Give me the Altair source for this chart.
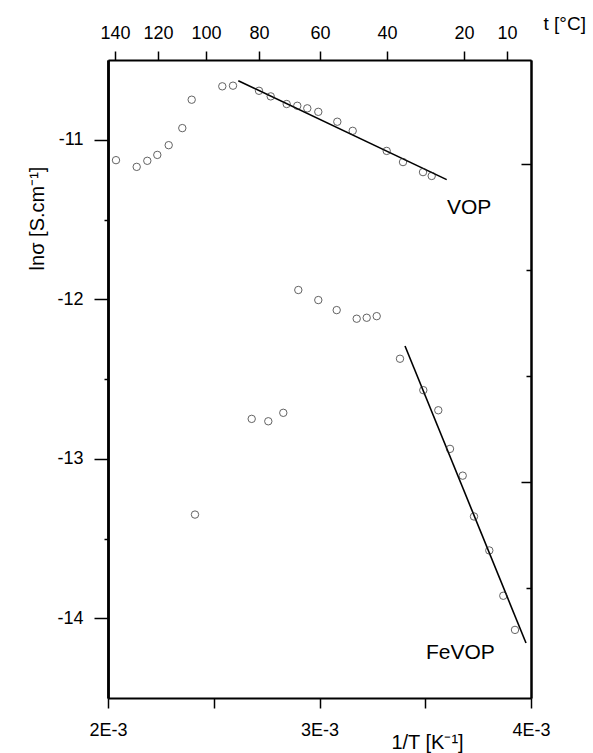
import altair as alt
import pandas as pd

# ---------------- data ----------------
# VOP: 1/T [K^-1], ln sigma
vop_x = [0.0020378, 0.0021357, 0.0021858, 0.0022331, 0.0022870, 0.0023513, 0.0023957,
         0.0025404, 0.0025910, 0.0027139, 0.0027693, 0.0028449, 0.0028950, 0.0029423,
         0.0029943, 0.0030842, 0.0031570, 0.0033177, 0.0033948, 0.0034894, 0.0035305]
vop_y = [-11.128, -11.170, -11.132, -11.095, -11.034, -10.927, -10.749,
         -10.665, -10.661, -10.693, -10.728, -10.776, -10.787, -10.803,
         -10.825, -10.887, -10.944, -11.070, -11.140, -11.203, -11.227]

# FeVOP
fe_x = [0.0024113, 0.0026794, 0.0027579, 0.0028288, 0.0028998, 0.0029943, 0.0030813,
        0.0031759, 0.0032232, 0.0032705, 0.0033806, 0.0034908, 0.0035617, 0.0036170,
        0.0036771, 0.0037305, 0.0038028, 0.0038690, 0.0039243]
fe_y = [-13.35, -12.750, -12.765, -12.712, -11.942, -12.005, -12.068,
        -12.122, -12.116, -12.106, -12.373, -12.570, -12.696, -12.938,
        -13.106, -13.362, -13.575, -13.859, -14.073]

# fitted straight lines (end points)
fit_series = ["VOP", "VOP", "FeVOP", "FeVOP"]
fit_x = [0.0026161, 0.0036014, 0.0034043, 0.0039764]
fit_y = [-10.630, -11.250, -12.293, -14.155]

# series labels
label_text = ["VOP", "FeVOP"]
label_x = [0.0036028, 0.0035035]
label_y = [-11.428, -14.22]

# axes
bottom_ticks = [0.002, 0.0025, 0.003, 0.0035, 0.004]
bottom_labels = ["2E-3", "", "3E-3", "", "4E-3"]
left_major = [-11, -12, -13, -14]
left_minor = [-11.5, -12.5, -13.5]
top_t_labels = ["140", "120", "100", "80", "60", "40", "20", "10"]
top_t_pos = [0.0020331, 0.0022364, 0.0024634, 0.0027139, 0.0030024,
             0.0033191, 0.0036832, 0.0038865]
right_major = [-11.152, -13.146]
right_minor = [-11.817, -12.481, -13.810]

# ---------------- chart ----------------
F = "Liberation Sans"
W, H = 423, 638

df_vop = pd.DataFrame({"x": vop_x, "y": vop_y})
df_fe = pd.DataFrame({"x": fe_x, "y": fe_y})
df_fit = pd.DataFrame({"s": fit_series, "x": fit_x, "y": fit_y})
df_lab = pd.DataFrame({"t": label_text, "x": label_x, "y": label_y})

xscale = alt.Scale(domain=[0.002, 0.004], nice=False, zero=False)
yscale = alt.Scale(domain=[-14.5, -10.5], nice=False, zero=False)


def ternary(vals, labels, tol=1e-7):
    expr = "''"
    for v, l in reversed(list(zip(vals, labels))):
        expr = f"abs(datum.value - {v}) < {tol} ? '{l}' : ({expr})"
    return expr


common = dict(labelFont=F, titleFont=F, labelColor="black", titleColor="black",
              tickColor="black", domainColor="black", grid=False,
              titleFontWeight="normal", labelFlush=False, labelOverlap=False)

x_axis = alt.Axis(orient="bottom", values=bottom_ticks,
                  labelExpr=ternary(bottom_ticks, bottom_labels),
                  title="1/T [K⁻¹]", titleX=319, titleY=44, titleAlign="center",
                  titleBaseline="middle", titleAngle=0, titleFontSize=20,
                  tickSize=10, tickWidth=1.5, domainWidth=2, labelPadding=13,
                  labelFontSize=18, **common)
y_axis = alt.Axis(orient="left", values=left_major, labelExpr="'' + datum.value",
                  title="lnσ [S.cm⁻¹]", titleX=-71, titleY=158, titleAngle=270,
                  titleAlign="center", titleBaseline="middle", titleFontSize=20,
                  tickSize=14, tickWidth=1.5, domainWidth=2.5, labelPadding=11,
                  labelFontSize=18, **common)

X = alt.X("x:Q", scale=xscale, axis=x_axis)
Y = alt.Y("y:Q", scale=yscale, axis=y_axis)

pts_vop = alt.Chart(df_vop).mark_point(shape="circle", filled=False, size=55,
                                       strokeWidth=1, color="#222").encode(x=X, y=Y)
pts_fe = alt.Chart(df_fe).mark_point(shape="circle", filled=False, size=55,
                                     strokeWidth=1, color="#222").encode(x=X, y=Y)
fits = alt.Chart(df_fit).mark_line(color="black", strokeWidth=1.6).encode(
    x=X, y=Y, detail="s:N")
labels = alt.Chart(df_lab).mark_text(align="left", baseline="middle", font=F,
                                     fontSize=21, color="black").encode(
    x=X, y=Y, text="t:N")

main = alt.layer(fits, pts_vop, pts_fe, labels)

top = alt.Chart(pd.DataFrame({"pos": top_t_pos})).mark_point(opacity=0).encode(
    x=alt.X("pos:Q", scale=xscale,
            axis=alt.Axis(orient="top", values=top_t_pos,
                          labelExpr=ternary(top_t_pos, top_t_labels),
                          title="t [°C]", titleX=435, titleY=-37, titleAlign="left",
                          titleBaseline="middle", titleAngle=0, titleFontSize=19,
                          tickSize=9, tickWidth=1.5, domainWidth=2, labelPadding=9,
                          labelFontSize=18, **common)))

left_min = alt.Chart(pd.DataFrame({"v": left_minor})).mark_point(opacity=0).encode(
    y=alt.Y("v:Q", scale=yscale,
            axis=alt.Axis(orient="left", values=left_minor, labels=False, title=None,
                          tickSize=4, tickWidth=1.5, domainWidth=2.5, **common)))

right_maj = alt.Chart(pd.DataFrame({"v": right_major})).mark_point(opacity=0).encode(
    y=alt.Y("v:Q", scale=yscale,
            axis=alt.Axis(orient="right", values=right_major, labels=False, title=None,
                          tickSize={"expr": "-10"}, tickWidth=1.5, domainWidth=2,
                          **common)))

right_min = alt.Chart(pd.DataFrame({"v": right_minor})).mark_point(opacity=0).encode(
    y=alt.Y("v:Q", scale=yscale,
            axis=alt.Axis(orient="right", values=right_minor, labels=False, title=None,
                          tickSize={"expr": "-5"}, tickWidth=1.5, domainWidth=2,
                          **common)))

chart = alt.layer(main, top, left_min, right_maj, right_min).resolve_scale(
    x="independent", y="independent"
).properties(
    width=W, height=H,
    autosize=alt.AutoSizeParams(type="none"),
    padding={"left": 108, "top": 60, "right": 62, "bottom": 55},
).configure_view(stroke=None).configure(background="white")

chart.save("out.html", embed_options={"renderer": "svg", "actions": False})
